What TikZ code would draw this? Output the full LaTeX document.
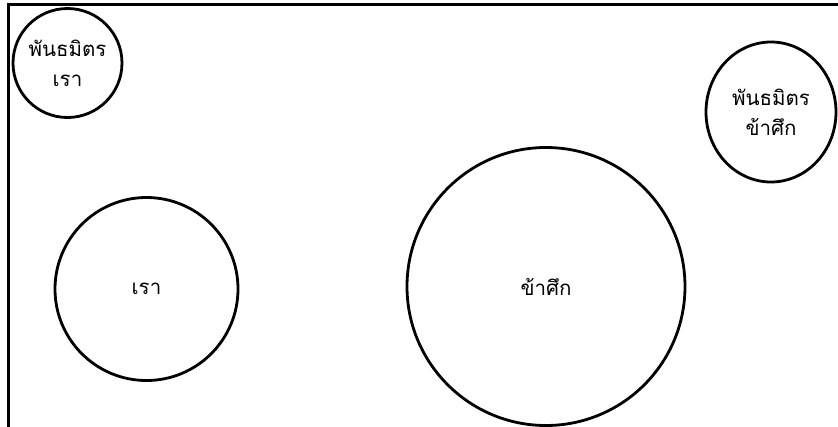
\documentclass[tikz,border=0pt]{standalone}
\usepackage{fontspec}
\newfontfamily\thaifont[Script=Thai]{Loma}
\usetikzlibrary{shapes.geometric}
\begin{document}
\begin{tikzpicture}[x=1pt,y=1pt,
  party/.style={circle,draw,line width=2.8pt,inner sep=0pt,align=center,
    font=\thaifont\fontsize{20.5}{30}\selectfont},
  frameline/.style={line width=2.2pt}]
\useasboundingbox (0,0) rectangle (838,-426);
\draw[frameline] (840,-4.5) -- (8.5,-4.5) -- (8.5,-428);
\node[party,minimum size=109pt] (allyus) at (67.5,-63) {พันธมิตร\\เรา};
\node[party,ellipse,minimum width=130pt,minimum height=140pt] (allyenemy) at (771,-112) {พันธมิตร\\ข้าศึก};
\node[party,minimum size=183pt] (us) at (146.5,-289) {เรา};
\node[party,minimum size=278pt] (enemy) at (546,-286.5) {ข้าศึก};
\end{tikzpicture}
\end{document}
